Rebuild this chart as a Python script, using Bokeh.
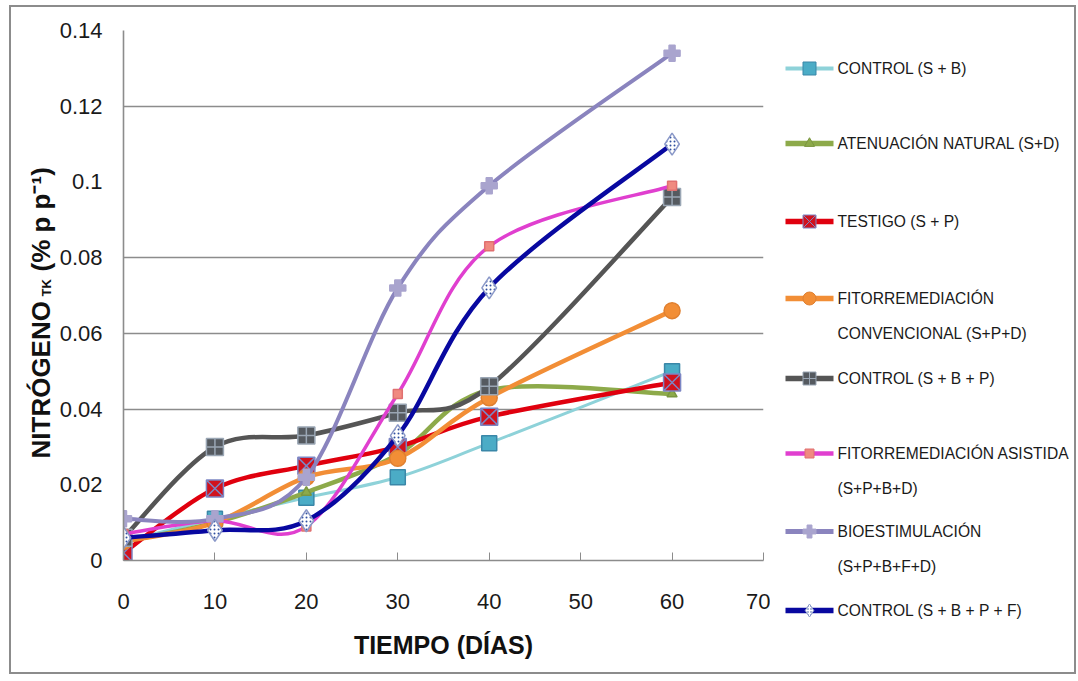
import math
from bokeh.plotting import figure
from bokeh.models import Range1d, FixedTicker, Row
from bokeh.embed import file_html
from bokeh.resources import INLINE
from bokeh.core.properties import value

# ---------------- data ----------------
days = [0, 10, 20, 30, 40, 60]
control_sb = [0.005, 0.011, 0.0166, 0.022, 0.031, 0.050]
atenuacion = [0.005, 0.010, 0.018, 0.028, 0.045, 0.044]
testigo = [0.002, 0.019, 0.025, 0.030, 0.038, 0.047]
fito_conv = [0.005, 0.010, 0.022, 0.027, 0.043, 0.066]
control_sbp = [0.006, 0.030, 0.033, 0.039, 0.046, 0.096]
fito_asist = [0.007, 0.0105, 0.009, 0.044, 0.083, 0.099]
bioestim = [0.011, 0.011, 0.022, 0.072, 0.099, 0.134]
control_sbpf = [0.006, 0.008, 0.0105, 0.033, 0.072, 0.110]

series_labels = [
    ["CONTROL (S + B)"],
    ["ATENUACIÓN NATURAL (S+D)"],
    ["TESTIGO (S + P)"],
    ["FITORREMEDIACIÓN", "CONVENCIONAL (S+P+D)"],
    ["CONTROL (S + B + P)"],
    ["FITORREMEDIACIÓN ASISTIDA", "(S+P+B+D)"],
    ["BIOESTIMULACIÓN", "(S+P+B+F+D)"],
    ["CONTROL (S + B + P + F)"],
]
series_values = [control_sb, atenuacion, testigo, fito_conv,
                 control_sbp, fito_asist, bioestim, control_sbpf]

y_ticks = [0, 0.02, 0.04, 0.06, 0.08, 0.10, 0.12, 0.14]
y_tick_labels = ["0", "0.02", "0.04", "0.06", "0.08", "0.1", "0.12", "0.14"]
y_grid_values = [0.04, 0.06, 0.08, 0.12, 0.14]
x_ticks = [0, 10, 20, 30, 40, 50, 60, 70]

y_title_parts = ["NITRÓGENO", "TK", "(% p p⁻¹)"]
x_title = "TIEMPO (DÍAS)"

# ---------------- styles ----------------
styles = [
    dict(line="#8ED2D9", lw=3, marker="square", size=15, fill="#4BACC6", mline="#3A87A8", hatch=None),
    dict(line="#8DAA4A", lw=4.5, marker="triangle", size=10, fill="#8DAA4A", mline="#7A9640", hatch=None),
    dict(line="#E0000E", lw=4.5, marker="square_x", size=17, fill="#D0121E", mline="#7C86C4", hatch=None),
    dict(line="#F28E36", lw=4.5, marker="circle", size=16, fill="#F28E36", mline="#E08030", hatch=None),
    dict(line="#555555", lw=4.5, marker="square_cross", size=17, fill="#555A60", mline="#9AA6B4", hatch=None),
    dict(line="#E03FCF", lw=3.5, marker="square", size=9, fill="#F08A80", mline="#E07070", hatch=None),
    dict(line="#8A84BE", lw=4, marker="plus", size=16, fill="#A9A4CE", mline="#A9A4CE", hatch=None),
    dict(line="#0808A0", lw=4.5, marker="diamond", size=22, fill="#FFFFFF", mline="#8A98C8", hatch="dot"),
]

FONT = "Liberation Sans"

# page layout: bordered box inset in the window
OX, OY = 11, 7            # canvas origin in the page
CW, CH = 1063, 665        # canvas (content) size
X_MAIN0 = 56              # page x where the main figure starts
X_LEG0 = 770              # page x where the legend panel starts
W_TITLE = X_MAIN0 - OX
W_MAIN = X_LEG0 - X_MAIN0
W_LEG = OX + CW - X_LEG0


def no_align(fig):
    try:
        fig.frame_align = False
    except Exception:
        pass


# ---------------- y title panel ----------------
t = figure(width=W_TITLE, height=CH, output_backend="svg", toolbar_location=None,
           x_range=Range1d(OX, X_MAIN0), y_range=Range1d(-(OY + CH), -OY),
           min_border=0, min_border_left=0, min_border_right=0,
           min_border_top=0, min_border_bottom=0)
t.axis.visible = False
t.grid.visible = False
t.outline_line_color = None
t.border_fill_color = "white"
no_align(t)

title_pos = [(40, 458, "26px"), (46, 296, "13px"), (40, 271, "26px")]
for txt, (px, py, fs) in zip(y_title_parts, title_pos):
    t.text(x=[px], y=[-py], text=[txt], angle=math.pi / 2,
           text_font=value(FONT), text_font_style="bold", text_font_size=fs,
           text_align="left", text_baseline="middle", text_color="#111111")

# ---------------- main plot ----------------
p = figure(width=W_MAIN, height=CH, output_backend="svg", toolbar_location=None,
           x_range=Range1d(0, 70), y_range=Range1d(0, 0.14),
           min_border_left=119 - X_MAIN0, min_border_right=X_LEG0 - 763,
           min_border_top=30 - OY, min_border_bottom=OY + CH - 560)
p.outline_line_color = None
p.background_fill_color = "white"
p.border_fill_color = "white"

p.xgrid.grid_line_color = None
p.ygrid.ticker = FixedTicker(ticks=y_grid_values)
p.ygrid.grid_line_color = "#8c8c8c"
p.ygrid.grid_line_width = 1.6

p.yaxis.ticker = FixedTicker(ticks=y_ticks)
p.yaxis.major_label_overrides = {t_: l for t_, l in zip(y_ticks, y_tick_labels)}
p.yaxis.major_tick_in = 0
p.yaxis.major_tick_out = 0
p.yaxis.minor_tick_line_color = None
p.yaxis.major_label_standoff = 21
p.yaxis.axis_line_color = "#8c8c8c"
p.yaxis.axis_line_width = 1.6

p.xaxis.ticker = FixedTicker(ticks=x_ticks)
p.xaxis.major_tick_in = 8
p.xaxis.major_tick_out = 0
p.xaxis.major_tick_line_color = "#8c8c8c"
p.xaxis.minor_tick_line_color = None
p.xaxis.axis_line_color = "#8c8c8c"
p.xaxis.axis_line_width = 1.6
p.xaxis.major_label_standoff = 33
p.xaxis.axis_label = x_title
p.xaxis.axis_label_text_font = FONT
p.xaxis.axis_label_text_font_style = "bold"
p.xaxis.axis_label_text_font_size = "25px"
p.xaxis.axis_label_text_color = "#111111"
p.xaxis.axis_label_standoff = 19

for ax in (p.xaxis, p.yaxis):
    ax.major_label_text_font = FONT
    ax.major_label_text_font_size = "22px"
    ax.major_label_text_color = "#1a1a1a"


def bezier_segments(xs, ys):
    n = len(xs)
    out = dict(x0=[], y0=[], x1=[], y1=[], cx0=[], cy0=[], cx1=[], cy1=[])
    for i in range(n - 1):
        i0 = max(i - 1, 0)
        i3 = min(i + 2, n - 1)
        out["x0"].append(xs[i]); out["y0"].append(ys[i])
        out["x1"].append(xs[i + 1]); out["y1"].append(ys[i + 1])
        out["cx0"].append(xs[i] + (xs[i + 1] - xs[i0]) / 6.0)
        out["cy0"].append(ys[i] + (ys[i + 1] - ys[i0]) / 6.0)
        out["cx1"].append(xs[i + 1] - (xs[i3] - xs[i]) / 6.0)
        out["cy1"].append(ys[i + 1] - (ys[i3] - ys[i]) / 6.0)
    return out


for vals, st in zip(series_values, styles):
    seg = bezier_segments(days, vals)
    p.bezier(line_color=st["line"], line_width=st["lw"], line_cap="round", **seg)
    kw = dict(marker=st["marker"], size=st["size"], fill_color=st["fill"],
              line_color=st["mline"], line_width=1.5)
    if st["hatch"]:
        kw.update(hatch_pattern=st["hatch"], hatch_color="#3050A0", hatch_scale=4)
    p.scatter(days, vals, **kw)

# ---------------- legend panel ----------------
legend_y = [68, 143, 221, 298, 378, 453, 531, 610]
legend_line_gap = 35
leg_x0, leg_x1, leg_text_x = 785, 833, 837

q = figure(width=W_LEG, height=CH, output_backend="svg", toolbar_location=None,
           x_range=Range1d(X_LEG0, OX + CW), y_range=Range1d(OY + CH, OY),
           min_border=0, min_border_left=0, min_border_right=0,
           min_border_top=0, min_border_bottom=0)
q.axis.visible = False
q.grid.visible = False
q.outline_line_color = None
q.border_fill_color = "white"
no_align(q)

for lab, st, yy in zip(series_labels, styles, legend_y):
    q.segment(x0=[leg_x0], y0=[yy], x1=[leg_x1], y1=[yy], line_color=st["line"],
              line_width=st["lw"] + 1)
    kw = dict(marker=st["marker"], size=min(st["size"], 13), fill_color=st["fill"],
              line_color=st["mline"], line_width=1)
    if st["hatch"]:
        kw.update(hatch_pattern=st["hatch"], hatch_color="#3050A0", hatch_scale=3)
    q.scatter([(leg_x0 + leg_x1) / 2], [yy], **kw)
    for k, line in enumerate(lab):
        q.text(x=[leg_text_x], y=[yy + k * legend_line_gap], text=[line],
               text_font=value(FONT), text_font_size="15.6px", text_baseline="middle",
               text_align="left", text_color="#1a1a1a")

layout = Row(children=[t, p, q], margin=(5, 2, 7, 9),
             styles={"border": "2px solid #8c8c8c"})

open("out.html", "w").write(file_html(layout, INLINE))
